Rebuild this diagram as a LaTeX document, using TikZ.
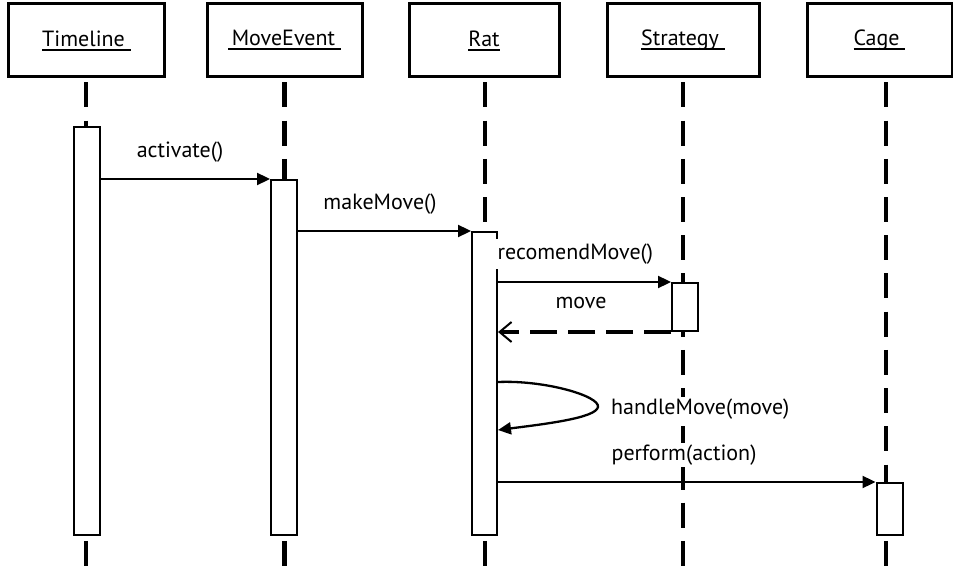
\documentclass[tikz,border=0pt]{standalone}
\usepackage{fontspec}
\setmainfont{PT Sans}
\usetikzlibrary{arrows.meta,calc}
\newcommand{\ulbox}[1]{\begingroup\setbox0\hbox{#1}\leavevmode\rlap{\raisebox{-4.5pt}{\rule{\wd0}{2pt}}}\box0\endgroup}
\begin{document}
\begin{tikzpicture}[x=1pt,y=-1pt,
  font=\fontsize{22}{26}\selectfont,
  obj/.style={draw, line width=3pt, minimum height=73pt, inner sep=0pt},
  bar/.style={draw, fill=white, line width=2pt, minimum width=26pt, inner sep=0pt},
  life/.style={line width=4.5pt, dash pattern=on 25pt off 13.2pt},
  msg/.style={line width=2.3pt, -{Triangle[length=13pt,width=12pt]}},
  ret/.style={line width=3.5pt, dash pattern=on 27pt off 11pt, -{Straight Barb[length=12pt,width=20pt,line width=2pt]}},
  lbl/.style={fill=white, inner sep=2pt}]
\useasboundingbox (0,0) rectangle (953,569);
\clip (0,0) rectangle (953,569);
% object boxes
\node[obj, minimum width=156pt] (tl) at (86.5,40.5) {\ulbox{Timeline\ }};
\node[obj, minimum width=155pt] (me) at (284.5,40.5) {\ulbox{\,MoveEvent\ }};
\node[obj, minimum width=150pt] (rat) at (484,40.5) {\ulbox{Rat}};
\node[obj, minimum width=152pt] (st) at (683,40.5) {\ulbox{Strategy\ }};
\node[obj, minimum width=145pt] (cg) at (879.5,40.5) {\ulbox{Cage\ }};
% lifelines
\draw[life] ([xshift=-0.5pt,yshift=-4pt]tl.south) -- ++(0,487);
\draw[life] ([yshift=-4pt]me.south) -- ++(0,487);
\draw[life] ([xshift=1pt,yshift=-4pt]rat.south) -- ++(0,487);
\draw[life] ([yshift=-4pt]st.south) -- ++(0,487);
\draw[life] ([xshift=6.5pt,yshift=-4pt]cg.south) -- ++(0,487);
% activation bars
\node[bar, minimum height=408pt] (tlbar) at (87,331) {};
\node[bar, minimum height=355pt] (mebar) at (284,357.5) {};
\node[bar, minimum height=303pt, minimum width=25pt] (ratbar) at (484.5,383.5) {};
\node[bar, minimum height=48pt] (stbar) at (685,307) {};
\node[bar, minimum height=52pt] (cgbar) at (889.5,509) {};
% messages
\draw[msg] (tlbar.east |- mebar.north west) -- (mebar.north west);
\draw[msg] (mebar.east |- ratbar.north west) -- (ratbar.north west);
\draw[msg] (ratbar.east |- stbar.north west) -- (stbar.north west);
\draw[ret] (stbar.south west) -- (ratbar.east |- stbar.south west);
\coordinate (hs) at ($(ratbar.north east)+(0,151)$);
\coordinate (he) at ($(ratbar.north east)+(0,199)$);
\draw[msg] (hs) .. controls (545,380) and (600,396) .. (598,407) .. controls (596,418) and (545,424) .. (he);
\draw[msg] (ratbar.east |- cgbar.north west) -- (cgbar.north west);
% labels
\node[lbl] (la) at (180,152) {activate()};
\node[lbl] (lb) at (380,204) {makeMove()};
\node[lbl, anchor=west, inner ysep=5pt] (lc) at (495.5,254) {recomendMove()};
\node[lbl] (ld) at (581,303) {move};
\node[lbl, anchor=west] (le) at (609,409) {handleMove(move)};
\node[lbl] (lf) at (684,455) {perform(action)};
\end{tikzpicture}
\end{document}
